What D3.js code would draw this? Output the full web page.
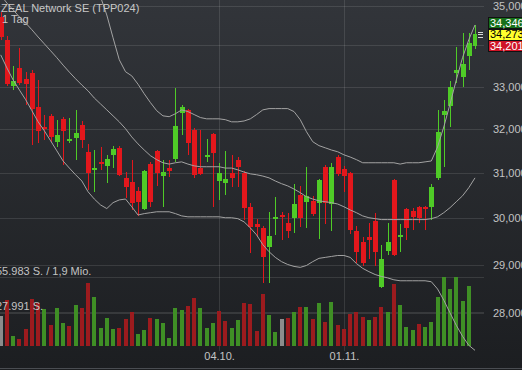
<!DOCTYPE html>
<html><head><meta charset="utf-8">
<script src="https://cdn.jsdelivr.net/npm/d3@7"></script>
<style>
html,body{margin:0;padding:0;background:#26292d;overflow:hidden;}
svg{display:block;font-family:"Liberation Sans",Arial,sans-serif;}
</style></head><body>
<svg id="c" width="522" height="370"></svg>
<script>
const title = "ZEAL Network SE (TPP024)";
const period = "1 Tag";
const dates = ["16.08.","17.08.","18.08.","21.08.","22.08.","23.08.","24.08.","25.08.","28.08.","29.08.","30.08.","31.08.",
"01.09.","04.09.","05.09.","06.09.","07.09.","08.09.","11.09.","12.09.","13.09.","14.09.","15.09.","18.09.","19.09.","20.09.","21.09.","22.09.","25.09.","26.09.","27.09.","28.09.","29.09.",
"02.10.","03.10.","04.10.","05.10.","06.10.","09.10.","10.10.","11.10.","12.10.","13.10.","16.10.","17.10.","18.10.","19.10.","20.10.","23.10.","24.10.","25.10.","26.10.","27.10.","30.10.","31.10.",
"01.11.","02.11.","03.11.","06.11.","07.11.","08.11.","09.11.","10.11.","13.11.","14.11.","15.11.","16.11.","17.11.","20.11.","21.11.","22.11.","23.11.","24.11.","27.11.","28.11.","29.11.","30.11."];
const open = [34.71,34.14,33.02,33.45,33.19,33.33,32.52,32.06,32.31,31.71,
32.24,31.73,31.80,32.10,31.48,31.07,31.25,31.16,31.41,31.57,
30.89,30.80,30.60,30.21,31.20,31.50,30.93,31.11,31.32,32.38,
32.45,31.98,31.11,31.36,31.89,30.82,30.78,31.00,31.30,31.00,
30.25,29.88,29.79,29.39,30.00,30.07,29.90,30.01,30.51,30.36,
30.38,30.34,31.14,30.31,31.36,31.09,31.00,29.73,29.49,29.60,
29.94,28.54,29.30,30.84,29.60,30.21,30.16,30.25,30.25,30.25,
30.89,32.34,32.55,33.33,33.23,33.74,33.99];
const high = [34.84,34.24,33.50,33.94,33.35,33.40,33.16,32.34,32.36,32.22,
32.29,32.26,32.45,32.19,31.66,31.52,31.59,31.41,31.62,31.62,
31.02,31.30,30.69,31.07,31.25,31.52,31.30,31.30,32.97,32.57,
32.48,32.03,31.98,31.78,31.91,31.23,31.50,31.41,31.36,31.04,
30.34,29.99,29.84,30.14,30.47,30.14,30.12,30.76,30.71,31.14,
30.49,30.87,31.18,31.23,31.41,31.16,31.02,29.84,29.60,29.90,
30.12,29.43,29.90,30.87,29.88,30.23,30.23,30.27,30.27,30.76,
32.45,32.69,33.14,33.96,34.31,34.31,34.51];
const low = [34.14,33.02,32.92,33.04,32.57,31.64,31.69,31.75,31.71,31.59,
31.18,31.69,31.30,31.57,30.62,30.58,31.07,30.78,31.11,30.93,
30.45,30.18,30.05,30.18,30.25,30.71,30.25,30.91,31.25,31.87,
31.41,30.89,30.96,31.25,30.25,30.40,30.51,30.69,30.69,29.97,
29.26,29.60,28.63,28.63,29.64,29.53,29.58,29.69,29.81,29.79,
30.05,29.55,29.88,29.73,30.93,30.58,29.66,29.05,28.97,29.12,
28.97,28.52,29.22,29.18,29.28,29.53,29.75,29.90,29.75,29.97,
30.84,31.14,32.05,33.09,32.99,33.40,33.91];
const close = [34.21,33.06,33.14,33.09,33.06,32.48,31.96,32.00,31.82,31.87,
31.96,31.78,31.91,31.75,31.00,31.11,31.20,31.32,31.55,30.96,
30.69,30.33,30.35,31.05,30.36,31.00,31.02,31.05,32.08,32.52,
31.69,30.96,30.98,31.41,31.45,31.00,30.87,30.89,31.14,30.23,
29.82,29.80,29.16,29.62,30.02,30.02,29.73,30.31,30.01,30.49,
30.10,30.84,30.34,31.14,30.98,30.93,29.75,29.28,29.05,29.54,
29.28,29.12,29.49,29.22,29.64,29.79,30.03,30.01,30.21,30.69,
31.94,32.43,32.99,33.40,33.54,34.06,34.273];
const volume = [24580,37320,8360,5430,13550,37890,34640,29770,17040,31080,
18910,16230,33260,31080,50870,40000,14360,22470,13550,14850,
21660,27830,9490,12980,22470,21660,18910,6730,30590,29210,
32450,38700,30590,14850,18420,28400,20530,14360,21090,34640,
34070,12410,42190,24910,11360,21900,22960,27340,31400,31400,
21660,34640,19230,35940,17040,13550,25960,27340,23770,21090,
23280,31400,27830,50300,33260,15660,12980,17850,15170,19710,
39510,55983,46000,55983,36750,48680,null];
const bbUpper = [null,null,null,null,null,null,null,null,null,null,
null,null,null,null,null,35.65,35.22,34.76,34.19,33.65,
33.36,33.26,33.06,32.83,32.62,32.43,32.31,32.29,32.36,32.45,
32.41,32.34,32.27,32.24,32.24,32.24,32.22,32.17,32.17,32.19,
32.24,32.34,32.45,32.48,32.48,32.48,32.48,32.41,32.22,31.94,
31.71,31.62,31.57,31.52,31.48,31.41,31.36,31.30,31.23,31.23,
31.23,31.23,31.23,31.23,31.20,31.23,31.23,31.23,31.25,31.27,
31.59,32.05,32.59,33.16,33.70,34.14,34.51];
const bbMiddle = [35.27,35.06,34.89,34.71,34.56,34.39,34.21,34.04,33.87,33.70,
33.52,33.35,33.19,33.04,32.90,32.73,32.59,32.45,32.31,32.17,
32.01,31.82,31.66,31.52,31.39,31.30,31.23,31.20,31.23,31.25,
31.20,31.16,31.14,31.14,31.14,31.14,31.11,31.11,31.07,31.02,
30.98,30.96,30.93,30.89,30.82,30.76,30.71,30.64,30.56,30.47,
30.42,30.38,30.36,30.34,30.31,30.25,30.18,30.12,30.05,30.01,
29.99,29.97,29.97,29.97,29.97,29.97,29.97,29.97,29.97,29.99,
30.03,30.12,30.23,30.36,30.49,30.67,30.89];
const bbLower = [33.77,33.45,33.16,32.92,32.69,32.43,32.17,31.96,31.73,31.50,
31.27,31.11,30.96,30.82,30.58,30.42,30.29,30.21,30.34,30.40,
30.42,30.25,30.07,30.10,30.12,30.14,30.14,30.14,30.10,30.05,
30.03,30.03,30.03,30.03,30.03,30.03,30.01,30.01,29.99,29.92,
29.79,29.64,29.43,29.28,29.16,29.07,29.01,28.97,28.95,28.99,
29.07,29.14,29.16,29.18,29.20,29.20,29.16,29.03,28.93,28.86,
28.80,28.76,28.73,28.69,28.67,28.67,28.67,28.67,28.67,28.65,
28.50,28.27,28.01,27.76,27.54,27.36,27.26];
const priceTicks = [28,29,30,31,32,33,34,35];
const priceLabelTicks = [28,29,30,31,32,33,35];
const dateTicks = ["04.10.","01.11."];
const lastPrices = [34.346,34.273,34.201];
const volTicks = [55983,27991];
const volTickLabels = ["55.983 S. / 1,9 Mio.","27.991 S."];

const de = d3.formatLocale({decimal:",",thousands:".",grouping:[3],currency:["","\u20ac"]});
const fmtPrice = de.format(".3f");

const svg = d3.select("#c");
const W = 522, H = 370;
const plotRight = 477, plotBottom = 351;

const defs = svg.append("defs");
const g1 = defs.append("linearGradient").attr("id","bg").attr("x1",0).attr("y1",0).attr("x2",0).attr("y2",1);
g1.append("stop").attr("offset","0%").attr("stop-color","#32353a");
g1.append("stop").attr("offset","100%").attr("stop-color","#1c1e21");
defs.append("clipPath").attr("id","clip").append("rect").attr("x",0).attr("y",0).attr("width",plotRight).attr("height",plotBottom);

svg.append("rect").attr("width",W).attr("height",H).attr("fill","url(#bg)");

const x = d3.scalePoint().domain(dates).range([0.7, 475]);
const y = d3.scaleLog().domain([28, 35]).range([313.4, 5.5]);
const yv = d3.scaleLinear().domain([0, 55983]).range([346, 277]);

const grid = svg.append("g").attr("stroke","#ffffff").attr("stroke-opacity",0.11).attr("shape-rendering","crispEdges");
priceTicks.forEach(t => grid.append("line").attr("x1",0).attr("x2",484).attr("y1",Math.round(y(t))+0.5).attr("y2",Math.round(y(t))+0.5));
volTicks.forEach(t => grid.append("line").attr("x1",0).attr("x2",484).attr("y1",Math.round(yv(t))+0.5).attr("y2",Math.round(yv(t))+0.5));
dateTicks.forEach(d => grid.append("line").attr("x1",Math.round(x(d))+0.5).attr("x2",Math.round(x(d))+0.5).attr("y1",0).attr("y2",plotBottom));

const plot = svg.append("g").attr("clip-path","url(#clip)");

// volume
const volColor = i => {
  if (i === 0) return "#8c8c8c";
  if (close[i] > close[i-1]) return "#3f8f25";
  if (close[i] < close[i-1]) return "#9c1b1e";
  return "#8c8c8c";
};
plot.append("g").attr("shape-rendering","crispEdges").selectAll("rect")
  .data(volume.map((v,i)=>({v,i})).filter(d=>d.v!=null))
  .join("rect")
  .attr("x", d => Math.round(x(dates[d.i])) - 2)
  .attr("width", 4)
  .attr("y", d => yv(d.v))
  .attr("height", d => yv(0) - yv(d.v))
  .attr("fill", d => volColor(d.i));

// candles
const cData = dates.map((d,i)=>({d,i,o:open[i],h:high[i],l:low[i],c:close[i]}));
const cg = plot.append("g").attr("shape-rendering","crispEdges");
const candleColor = d => d.c >= d.o ? "#4fcb27" : "#e3171c";
cg.selectAll("line").data(cData).join("line")
  .attr("x1", d => Math.round(x(d.d))+0.5).attr("x2", d => Math.round(x(d.d))+0.5)
  .attr("y1", d => y(d.h)).attr("y2", d => y(d.l))
  .attr("stroke", candleColor).attr("stroke-width",1);
cg.selectAll("rect").data(cData).join("rect")
  .attr("x", d => Math.round(x(d.d)) - 2)
  .attr("width", 5)
  .attr("y", d => y(Math.max(d.o,d.c)))
  .attr("height", d => Math.max(1.5, Math.abs(y(d.o)-y(d.c))))
  .attr("fill", candleColor);

// bollinger bands
[bbUpper,bbMiddle,bbLower].forEach(arr => {
  const line = d3.line().defined(v => v != null).x((v,i)=>x(dates[i])).y(v=>y(v));
  plot.append("path").attr("d", line(arr)).attr("fill","none").attr("stroke","#a3a3a3").attr("stroke-width",1);
});

// price axis (34,000 label sits behind the last-price boxes)
const yAxis = d3.axisRight(y).tickValues(priceLabelTicks).tickFormat(fmtPrice).tickSize(0).tickPadding(0);
const ya = svg.append("g").attr("transform","translate(493,0)").call(yAxis);
ya.select(".domain").remove();
ya.selectAll("text").attr("fill","#c3c3c3").attr("font-size","11px").attr("font-family","Liberation Sans, Arial, sans-serif");

// date axis
const xAxis = d3.axisBottom(x).tickValues(dateTicks).tickSize(0).tickPadding(0);
const xa = svg.append("g").attr("transform","translate(0,352)").call(xAxis);
xa.select(".domain").remove();
xa.selectAll("text").attr("fill","#c3c3c3").attr("font-size","11px").attr("dy","0.71em").attr("font-family","Liberation Sans, Arial, sans-serif");

svg.append("line").attr("x1",0).attr("x2",W).attr("y1",368.5).attr("y2",368.5).attr("stroke","#4a4d52");

// last price markers & boxes
const boxColors = ["#17701a","#ffff2e","#cf1426"];
const textColors = ["#ffffff","#000000","#ffffff"];
lastPrices.forEach((p,k) => {
  svg.append("line").attr("x1",478).attr("x2",483).attr("y1",Math.round(y(p))+0.5).attr("y2",Math.round(y(p))+0.5)
    .attr("stroke","#d8d8d8").attr("shape-rendering","crispEdges");
});
const midY = y(lastPrices[1]);
lastPrices.forEach((p,k) => {
  const cy = midY + (k-1)*11.5;
  svg.append("rect").attr("x",488.5).attr("y",Math.round(cy-5.5)+0.5).attr("width",40).attr("height",11)
    .attr("fill",boxColors[k]).attr("stroke","#111").attr("stroke-width",1);
  svg.append("text").attr("x",490).attr("y",cy).attr("dy","0.36em").attr("font-size","11px")
    .attr("fill",textColors[k]).text(fmtPrice(p));
});

// volume labels
volTicks.forEach((t,k) => {
  svg.append("text").attr("x",-4).attr("y",yv(t)-2).attr("font-size","11px").attr("fill","#c3c3c3").text(volTickLabels[k]);
});

// title
svg.append("text").attr("x",1).attr("y",12).attr("font-size","11px").attr("fill","#c8c8c8").text(title);
svg.append("text").attr("x",2).attr("y",23).attr("font-size","11px").attr("fill","#c8c8c8").text(period);
</script>
</body></html>
